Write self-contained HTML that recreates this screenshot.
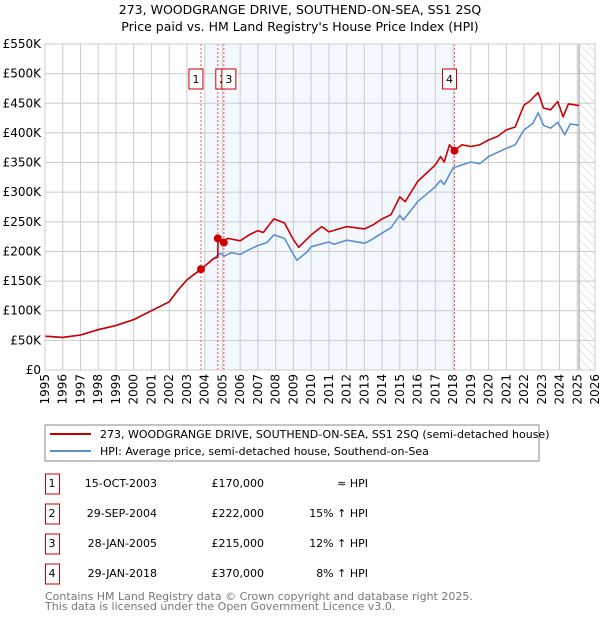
<!DOCTYPE html>
<html><head><meta charset="utf-8"><style>
body{margin:0;background:#fff;font-family:"DejaVu Sans","Liberation Sans",sans-serif;}
#wrap{position:relative;width:600px;height:620px;overflow:hidden;}
text{font-family:"DejaVu Sans","Liberation Sans",sans-serif;}
</style></head><body>
<div id="wrap">
<svg id="chart" width="600" height="620">
<defs><pattern id="hatch" width="6" height="6" patternUnits="userSpaceOnUse" patternTransform="rotate(-45)"><line x1="0" y1="0" x2="0" y2="6" stroke="#ccc" stroke-width="1"/></pattern></defs>
<text x="300" y="14" text-anchor="middle" font-size="12.5">273, WOODGRANGE DRIVE, SOUTHEND-ON-SEA, SS1 2SQ</text>
<text x="300" y="31" text-anchor="middle" font-size="12.5">Price paid vs. HM Land Registry's House Price Index (HPI)</text>
<g id="plot"></g>
<rect x="45" y="425" width="494" height="36" fill="#fff" stroke="#888"/>
<line x1="50" y1="434" x2="91" y2="434" stroke="#cc0000" stroke-width="2"/>
<text x="100" y="438" font-size="11">273, WOODGRANGE DRIVE, SOUTHEND-ON-SEA, SS1 2SQ (semi-detached house)</text>
<line x1="50" y1="451" x2="91" y2="451" stroke="#5b8fd0" stroke-width="2"/>
<text x="100" y="455" font-size="11">HPI: Average price, semi-detached house, Southend-on-Sea</text>
<g id="table"></g>
<text x="45" y="600" font-size="11" fill="#777">Contains HM Land Registry data © Crown copyright and database right 2025.</text>
<text x="45" y="610" font-size="11" fill="#777">This data is licensed under the Open Government Licence v3.0.</text>
</svg>
</div>
<script>
const hpiYears=[1995,1996,1997,1998,1999,2000,2001,2002,2002.5,2003,2003.8,2004.5,2004.9,2005.1,2005.5,2006,2006.5,2007,2007.5,2007.9,2008.5,2009.0,2009.2,2009.8,2010,2011,2011.3,2012,2013,2013.3,2014,2014.5,2015,2015.2,2016,2017,2017.3,2017.5,2018,2019,2019.5,2020,2021,2021.5,2022,2022.5,2022.8,2023.1,2023.5,2023.9,2024.3,2024.6,2025.1];
const hpiValues=[57,55,59,68,75,85,100,115,135,152,170,188,197,192,198,195,203,210,215,228,222,195,185,200,208,216,212,219,214,218,231,240,261,253,284,309,320,313,341,351,348,360,374,380,405,416,434,413,408,418,397,415,413];
const priceYears=[1995,1996,1997,1998,1999,2000,2001,2002,2002.5,2003,2003.8,2004.5,2004.74,2004.75,2005.0,2005.3,2006,2006.5,2007,2007.3,2007.9,2008.5,2009.0,2009.3,2009.8,2010,2010.6,2011,2012,2013,2013.5,2014,2014.5,2015,2015.3,2016,2017,2017.3,2017.5,2017.8,2018.08,2018.5,2019,2019.5,2020,2020.5,2021,2021.5,2022,2022.3,2022.8,2023.1,2023.5,2023.9,2024.2,2024.5,2025.1];
const priceValues=[57,55,59,68,75,85,100,115,135,152,170,188,190,222,215,222,218,228,235,232,255,248,220,207,222,228,242,233,242,238,245,255,262,292,284,318,346,360,351,380,370,380,377,380,388,394,405,410,447,453,468,442,439,453,427,449,446];
const yTicks=[0,50,100,150,200,250,300,350,400,450,500,550];
const yTickLabels=["£0","£50K","£100K","£150K","£200K","£250K","£300K","£350K","£400K","£450K","£500K","£550K"];
const xTicks=[1995,1996,1997,1998,1999,2000,2001,2002,2003,2004,2005,2006,2007,2008,2009,2010,2011,2012,2013,2014,2015,2016,2017,2018,2019,2020,2021,2022,2023,2024,2025,2026];
const saleLabels=["1","2","3","4"];
const saleYears=[2003.79,2004.74,2005.08,2018.08];
const salePrices=[170,222,215,370];
const saleDates=["15-OCT-2003","29-SEP-2004","28-JAN-2005","29-JAN-2018"];
const salePriceText=["£170,000","£222,000","£215,000","£370,000"];
const saleHpiText=["≈ HPI","15% ↑ HPI","12% ↑ HPI","8% ↑ HPI"];

const X0=45,X1=595,Y0=370,Y1=44;
const xs=y=>X0+(y-1995)/(2026-1995)*(X1-X0);
const ys=v=>Y0-v/550*(Y0-Y1);
const NS="http://www.w3.org/2000/svg";
const plot=document.getElementById('plot');
function mk(tag,attrs,parent){const e=document.createElementNS(NS,tag);for(const k in attrs)e.setAttribute(k,attrs[k]);(parent||plot).appendChild(e);return e;}
let e;
e=mk('rect',{x:xs(2004),y:Y1,width:xs(2018.08)-xs(2004),height:Y0-Y1,fill:'#f3f7fe'});


e=mk('rect',{x:xs(2025.1),y:Y1,width:X1-xs(2025.1),height:Y0-Y1,fill:'url(#hatch)'});


yTicks.forEach((t,i)=>{
  e=mk('line',{x1:X0,x2:X1,y1:ys(t),y2:ys(t),stroke:'#ccc','stroke-width':1});
  
  
  e=mk('text',{x:X0-4,y:ys(t)+4,'text-anchor':'end','font-size':12});
  e.textContent=yTickLabels[i];
  
  
});
xTicks.forEach(t=>{
  e=mk('line',{x1:xs(t),x2:xs(t),y1:Y1,y2:Y0,stroke:'#ccc','stroke-width':1});
  
  
  e=mk('text',{x:0,y:0,'text-anchor':'end','font-size':12,transform:`translate(${xs(t)+4},${Y0+4}) rotate(-90)`});
  e.textContent=t;
  
  
});
e=mk('line',{x1:xs(2025.1),x2:xs(2025.1),y1:Y1,y2:Y0,stroke:'#999','stroke-width':1});


saleYears.forEach((y,i)=>{
  e=mk('line',{x1:xs(y),x2:xs(y),y1:Y1,y2:Y0,stroke:'#ee5555','stroke-width':1,'stroke-dasharray':'2,2'});
  
  
});
function path(xa,va,color,name){
  const d=xa.map((x,i)=>(i?'L':'M')+xs(x).toFixed(1)+','+ys(va[i]).toFixed(1)).join('');
  const p=mk('path',{d:d,fill:'none',stroke:color,'stroke-width':1.6,'stroke-linejoin':'round'});
  
  
}
path(hpiYears,hpiValues,'#5b8fd0','hpi-line');
path(priceYears,priceValues,'#cc0000','price-line');
saleYears.forEach((y,i)=>{
  e=mk('circle',{cx:xs(y),cy:ys(salePrices[i]),r:4,fill:'#cc0000'});
  
  
});
const boxOff=[-5,5,5,-5];
saleYears.forEach((y,i)=>{
  const cx=xs(y)+boxOff[i];
  e=mk('rect',{x:cx-7,y:69,width:14,height:20,fill:'#fff',stroke:'#cc0000','stroke-width':1});
  
  
  e=mk('text',{x:cx,y:83,'text-anchor':'middle','font-size':11});
  e.textContent=saleLabels[i];
  
  
});
e=mk('rect',{x:X0,y:Y1,width:X1-X0,height:Y0-Y1,fill:'none',stroke:'#ccc'});


const tbl=document.getElementById('table');
saleLabels.forEach((l,i)=>{
  const cy=483+i*30;
  e=mk('rect',{x:45.5,y:cy-9,width:14,height:20,fill:'#fff',stroke:'#cc0000'},tbl);
  
  
  e=mk('text',{x:52,y:cy+4,'text-anchor':'middle','font-size':11},tbl);e.textContent=l;
  
  
  e=mk('text',{x:157,y:cy+4,'text-anchor':'end','font-size':11},tbl);e.textContent=saleDates[i];
  
  
  e=mk('text',{x:264,y:cy+4,'text-anchor':'end','font-size':11},tbl);e.textContent=salePriceText[i];
  
  
  e=mk('text',{x:368,y:cy+4,'text-anchor':'end','font-size':11},tbl);e.textContent=saleHpiText[i];
  
  
});
</script>
</body></html>
